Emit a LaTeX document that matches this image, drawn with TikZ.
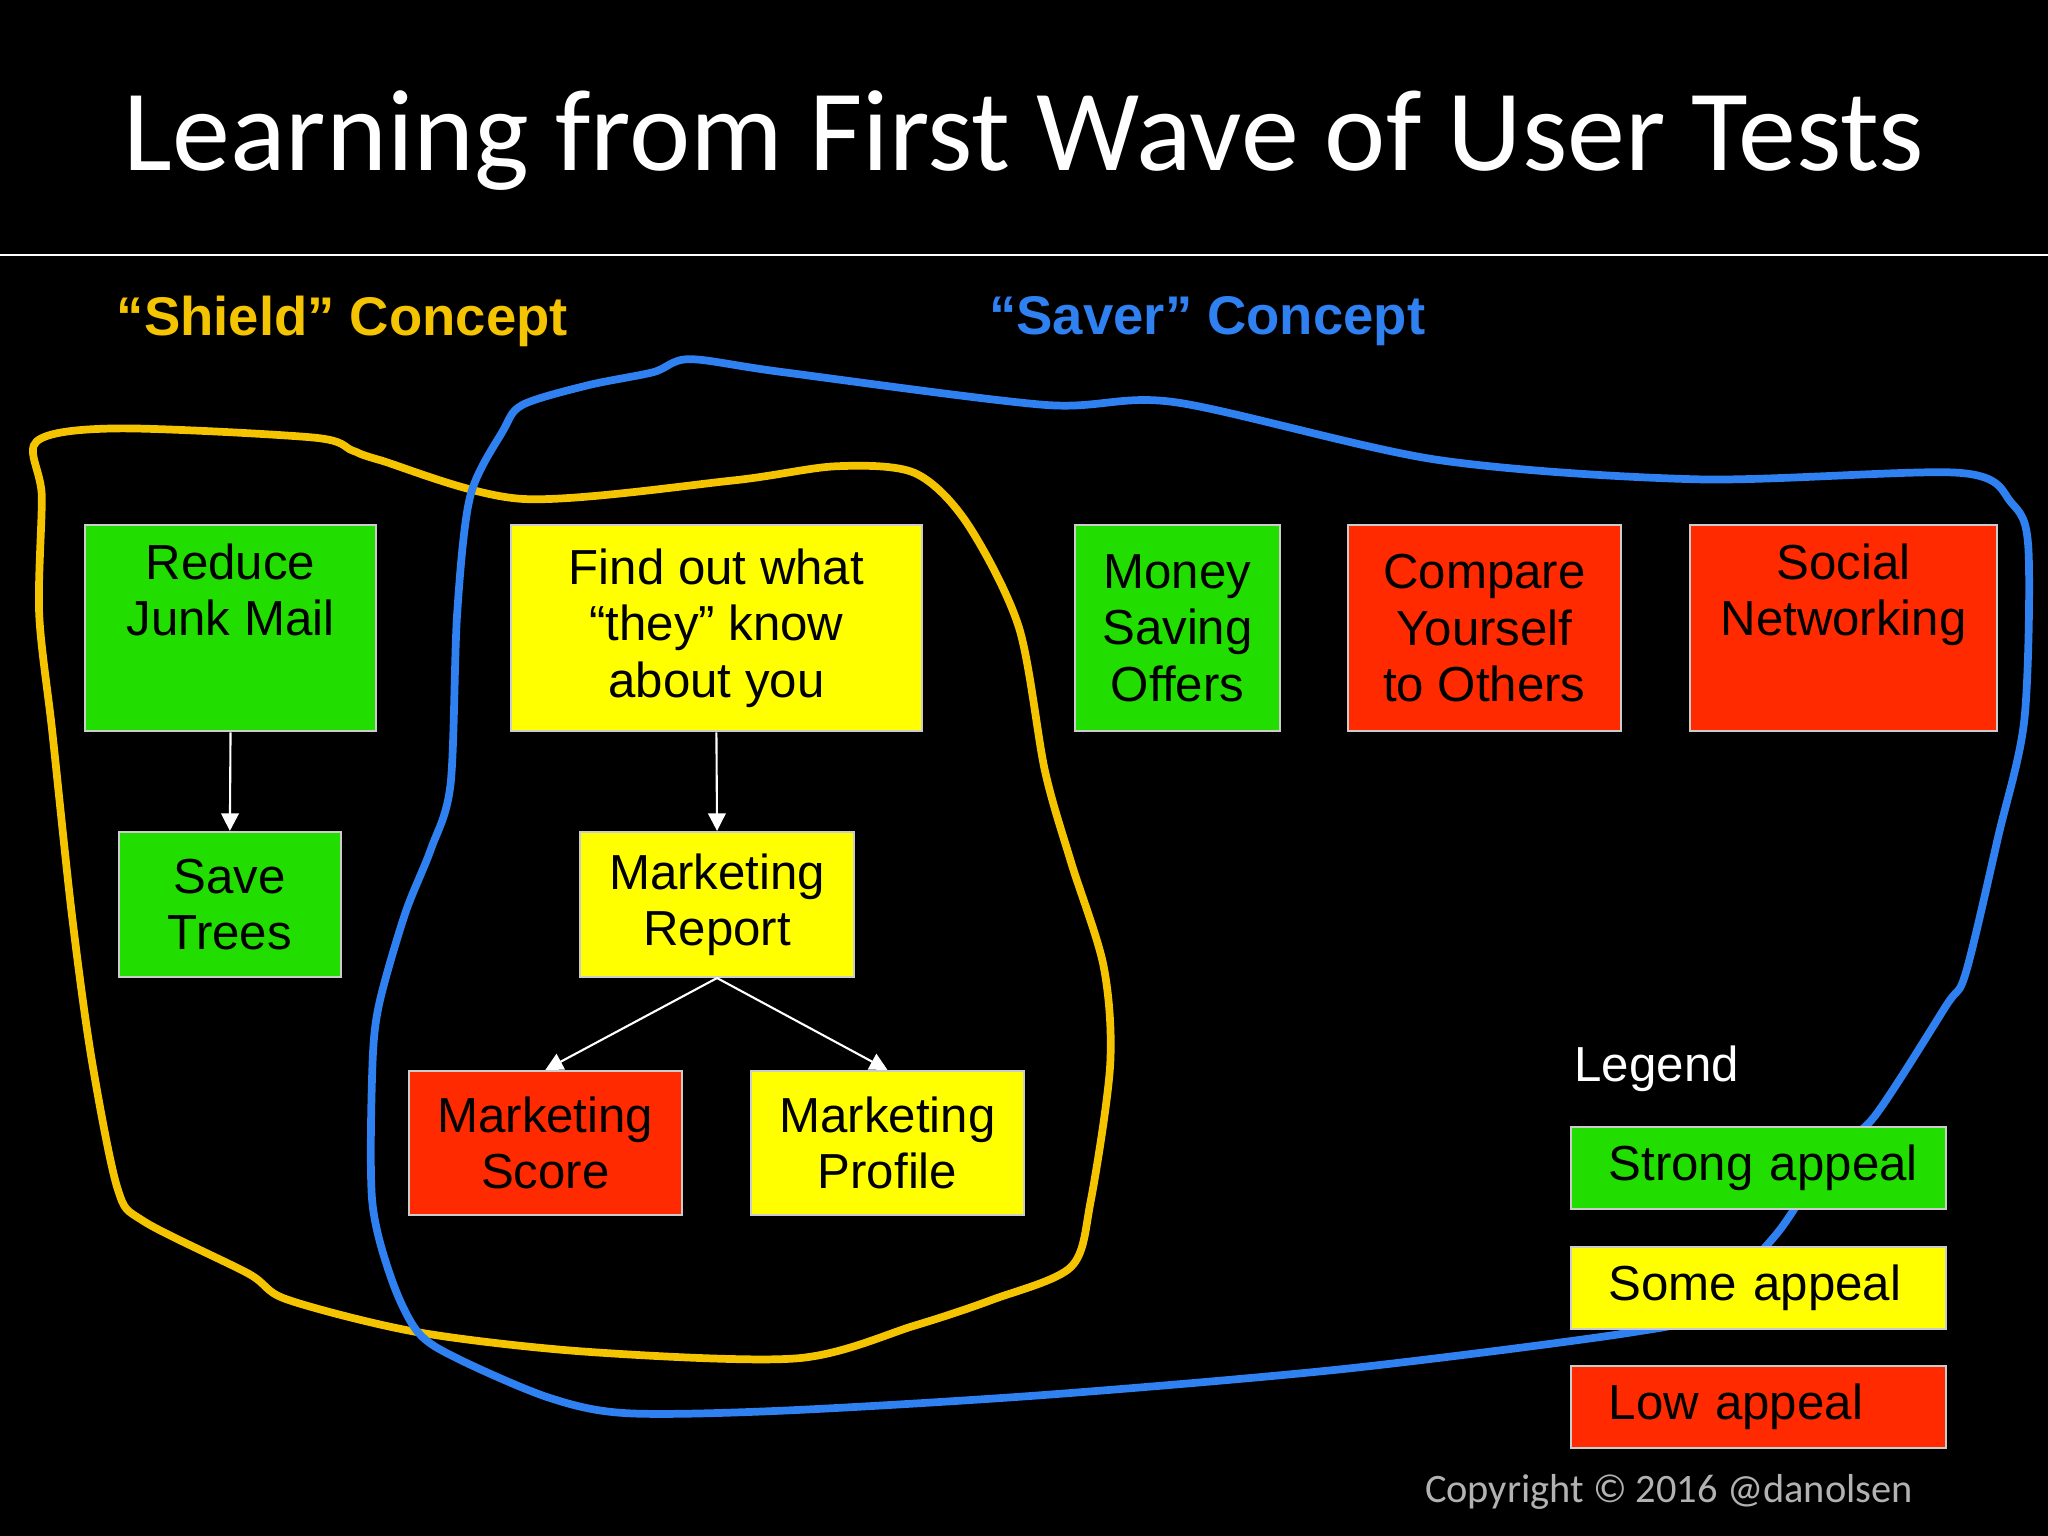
\documentclass[tikz,border=0pt]{standalone}
\usepackage{fontspec}
\setmainfont{Liberation Sans}
\newfontfamily\calfont{Carlito}
\usetikzlibrary{arrows.meta}
\definecolor{gr}{HTML}{22DD00}
\definecolor{ye}{HTML}{FFFF00}
\definecolor{re}{HTML}{FF2A00}
\definecolor{cy}{HTML}{F5C400}
\definecolor{cb}{HTML}{2F80F0}
\tikzset{
 bx/.style={draw=white!80!black, line width=0.6pt, align=center, font=\fontsize{14}{16}\selectfont, text=black, inner sep=0pt},
 tx/.style={align=center, font=\fontsize{14}{16}\selectfont, text=black, inner sep=0pt, anchor=north},
 lg/.style={draw=white!80!black, line width=0.6pt, anchor=north west, minimum width=287*0.013061cm, minimum height=63*0.013061cm, text width=260*0.013061cm, align=left, font=\fontsize{14}{16}\selectfont, text=black, inner sep=0pt},
 ar/.style={draw=white, line width=0.6pt, -{Triangle[length=5pt,width=5pt]}},
}
\begin{document}
\begin{tikzpicture}[x=0.013061cm,y=-0.013061cm]
\fill[black] (0,0) rectangle (1568,1176);
\useasboundingbox (0,0) rectangle (1568,1176);
\node[text=white, font=\calfont\fontsize{33}{36}\selectfont] (title) at (784,108) {Learning from First Wave of User Tests};
\coordinate (la) at (0,195); \coordinate (lb) at (1568,195);
\draw[white, line width=0.6pt] (la) -- (lb);
\node[text=cy, font=\bfseries\fontsize{15.5}{18}\selectfont, anchor=west] (shield) at (80,246) {“Shield” Concept};
\node[text=cb, font=\bfseries\fontsize{15.5}{18}\selectfont, anchor=west] (saver) at (748,246) {“Saver” Concept};
\draw[cy, line width=2.2pt] plot[smooth cycle, tension=0.5] coordinates {(28,338) (90,328) (240,335) (270,345) (290,352) (400,382) (560,368) (640,357) (700,362) (740,400) (780,480) (800,590) (820,660) (845,740) (850,815) (835,920) (820,970) (760,995) (700,1015) (610,1040) (450,1035) (320,1020) (220,995) (190,975) (110,935) (90,910) (70,810) (55,700) (40,560) (30,470) (32,380)};
\draw[cb, line width=2.2pt] plot[smooth cycle, tension=0.5] coordinates {(528,275) (600,285) (800,310) (900,308) (1100,352) (1300,367) (1500,362) (1540,385) (1553,420) (1550,550) (1530,640) (1505,745) (1490,770) (1435,855) (1400,885) (1360,945) (1300,1005) (1250,1020) (1030,1048) (800,1068) (600,1080) (480,1082) (420,1070) (350,1040) (320,1020) (300,980) (285,920) (285,820) (290,770) (310,700) (330,650) (345,600) (350,470) (360,380) (385,330) (400,310) (450,295) (500,285)};
\node[bx, fill=gr, minimum width=223*0.013061cm, minimum height=158*0.013061cm] (rj) at (176.5,481) {};
\node[tx] (rjt) at (176.5,416) {Reduce\\Junk Mail};
\node[bx, fill=gr, minimum width=170*0.013061cm, minimum height=111*0.013061cm] (st) at (176,692.5) {Save\\Trees};
\node[bx, fill=ye, minimum width=315*0.013061cm, minimum height=158*0.013061cm] (fo) at (548.5,481) {Find out what\\“they” know\\about you};
\node[bx, fill=ye, minimum width=210*0.013061cm, minimum height=111*0.013061cm] (mr) at (549,692.5) {Marketing\\Report};
\node[bx, fill=re, minimum width=209*0.013061cm, minimum height=110*0.013061cm] (ms) at (417.5,875) {Marketing\\Score};
\node[bx, fill=ye, minimum width=209*0.013061cm, minimum height=110*0.013061cm] (mp) at (679.5,875) {Marketing\\Profile};
\node[bx, fill=gr, minimum width=157*0.013061cm, minimum height=158*0.013061cm] (mo) at (901.5,481) {Money\\Saving\\Offers};
\node[bx, fill=re, minimum width=209*0.013061cm, minimum height=158*0.013061cm] (co) at (1136.5,481) {Compare\\Yourself\\to Others};
\node[bx, fill=re, minimum width=235*0.013061cm, minimum height=158*0.013061cm] (sn) at (1411.5,481) {};
\node[tx] (snt) at (1411.5,416) {Social\\Networking};
\draw[ar] (rj.south) -- (st.north);
\draw[ar] (fo.south) -- (mr.north);
\draw[ar] (mr.south) -- (ms.north);
\draw[ar] (mr.south) -- (mp.north);
\node[text=white, font=\fontsize{14}{16}\selectfont, anchor=west, inner sep=0pt] (leg) at (1205,818) {Legend};
\node[lg, fill=gr] (l1) at (1202,862) {\hspace{0.2cm}Strong appeal};
\node[lg, fill=ye] (l2) at (1202,954) {\hspace{0.2cm}Some appeal};
\node[lg, fill=re] (l3) at (1202,1045) {\hspace{0.2cm}Low appeal};
\node[text=white!70!black, font=\calfont\fontsize{11.5}{13}\selectfont, anchor=east] (cp) at (1474,1142) {Copyright © 2016 @danolsen};
\end{tikzpicture}
\end{document}
